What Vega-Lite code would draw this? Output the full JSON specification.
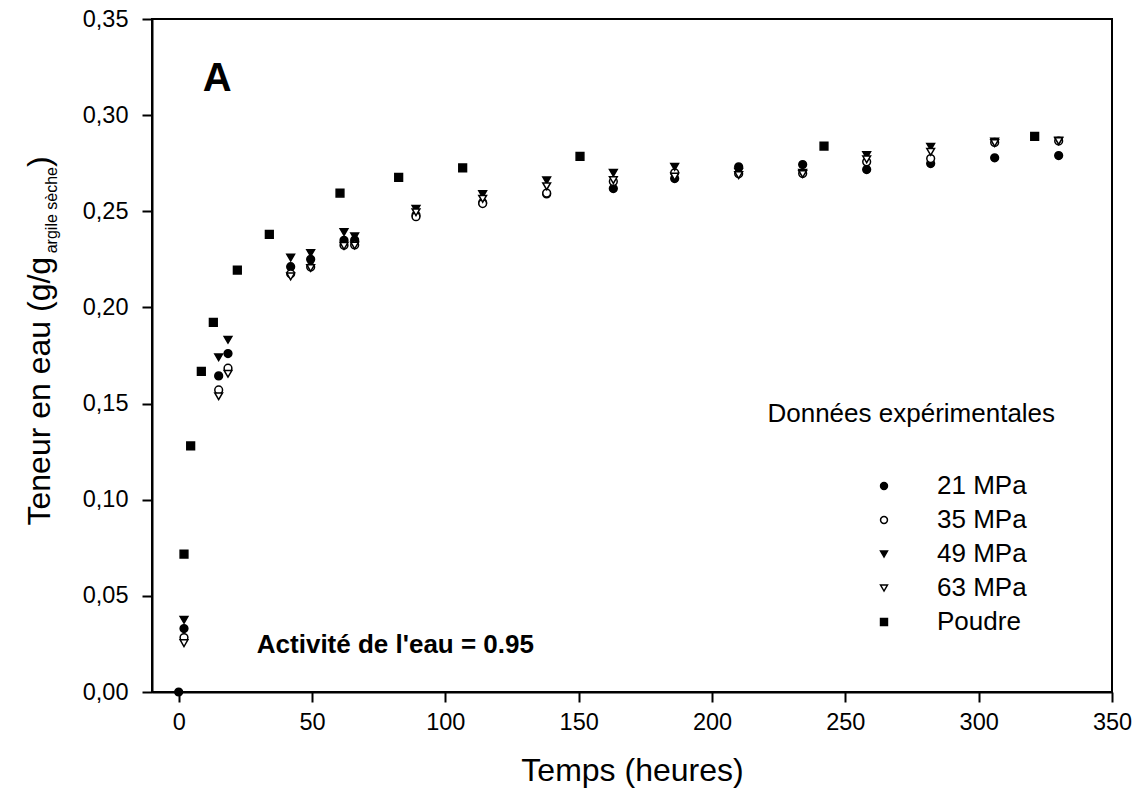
{
  "$schema": "https://vega.github.io/schema/vega-lite/v6.json",
  "width": 960,
  "height": 673,
  "autosize": {"type": "none"},
  "padding": {"left": 152, "top": 19, "right": 31, "bottom": 118},
  "background": "white",
  "config": {
    "font": "Liberation Sans",
    "view": {"stroke": "black", "strokeWidth": 2},
    "axis": {"grid": false, "domainColor": "black", "domainWidth": 2, "tickColor": "black", "tickWidth": 2, "labelColor": "black", "titleColor": "black", "labelFont": "Liberation Sans", "titleFont": "Liberation Sans", "titleFontWeight": "normal"}
  },
  "datasets": {
    "points": [
      {"series": "21 MPa", "t": 0, "w": 0},
      {"series": "21 MPa", "t": 2, "w": 0.033},
      {"series": "21 MPa", "t": 15, "w": 0.1644},
      {"series": "21 MPa", "t": 18.5, "w": 0.176},
      {"series": "21 MPa", "t": 42, "w": 0.2212},
      {"series": "21 MPa", "t": 49.5, "w": 0.225},
      {"series": "21 MPa", "t": 62, "w": 0.2349},
      {"series": "21 MPa", "t": 66, "w": 0.235},
      {"series": "21 MPa", "t": 89, "w": 0.248},
      {"series": "21 MPa", "t": 114, "w": 0.2545},
      {"series": "21 MPa", "t": 138, "w": 0.259},
      {"series": "21 MPa", "t": 163, "w": 0.2618},
      {"series": "21 MPa", "t": 186, "w": 0.267},
      {"series": "21 MPa", "t": 210, "w": 0.2731},
      {"series": "21 MPa", "t": 234, "w": 0.2743},
      {"series": "21 MPa", "t": 258, "w": 0.2717},
      {"series": "21 MPa", "t": 282, "w": 0.2748},
      {"series": "21 MPa", "t": 306, "w": 0.2778},
      {"series": "21 MPa", "t": 330, "w": 0.279},
      {"series": "35 MPa", "t": 2, "w": 0.0283},
      {"series": "35 MPa", "t": 15, "w": 0.1571},
      {"series": "35 MPa", "t": 18.5, "w": 0.1684},
      {"series": "35 MPa", "t": 42, "w": 0.2175},
      {"series": "35 MPa", "t": 49.5, "w": 0.221},
      {"series": "35 MPa", "t": 62, "w": 0.2323},
      {"series": "35 MPa", "t": 66, "w": 0.2325},
      {"series": "35 MPa", "t": 89, "w": 0.2472},
      {"series": "35 MPa", "t": 114, "w": 0.254},
      {"series": "35 MPa", "t": 138, "w": 0.2595},
      {"series": "35 MPa", "t": 163, "w": 0.2655},
      {"series": "35 MPa", "t": 186, "w": 0.27},
      {"series": "35 MPa", "t": 210, "w": 0.2695},
      {"series": "35 MPa", "t": 234, "w": 0.2696},
      {"series": "35 MPa", "t": 258, "w": 0.2757},
      {"series": "35 MPa", "t": 282, "w": 0.2774},
      {"series": "35 MPa", "t": 306, "w": 0.2858},
      {"series": "35 MPa", "t": 330, "w": 0.2865},
      {"series": "49 MPa", "t": 2, "w": 0.0375},
      {"series": "49 MPa", "t": 15, "w": 0.1741},
      {"series": "49 MPa", "t": 18.5, "w": 0.1832},
      {"series": "49 MPa", "t": 42, "w": 0.2259},
      {"series": "49 MPa", "t": 49.5, "w": 0.2283},
      {"series": "49 MPa", "t": 62, "w": 0.2392},
      {"series": "49 MPa", "t": 66, "w": 0.237},
      {"series": "49 MPa", "t": 89, "w": 0.2512},
      {"series": "49 MPa", "t": 114, "w": 0.2589},
      {"series": "49 MPa", "t": 138, "w": 0.2661},
      {"series": "49 MPa", "t": 163, "w": 0.27},
      {"series": "49 MPa", "t": 186, "w": 0.2731},
      {"series": "49 MPa", "t": 210, "w": 0.2705},
      {"series": "49 MPa", "t": 234, "w": 0.27},
      {"series": "49 MPa", "t": 258, "w": 0.2792},
      {"series": "49 MPa", "t": 282, "w": 0.2835},
      {"series": "49 MPa", "t": 306, "w": 0.2862},
      {"series": "49 MPa", "t": 330, "w": 0.2868},
      {"series": "63 MPa", "t": 2, "w": 0.0254},
      {"series": "63 MPa", "t": 15, "w": 0.1538},
      {"series": "63 MPa", "t": 18.5, "w": 0.1655},
      {"series": "63 MPa", "t": 42, "w": 0.2161},
      {"series": "63 MPa", "t": 49.5, "w": 0.2205},
      {"series": "63 MPa", "t": 62, "w": 0.232},
      {"series": "63 MPa", "t": 66, "w": 0.2322},
      {"series": "63 MPa", "t": 89, "w": 0.2495},
      {"series": "63 MPa", "t": 114, "w": 0.2565},
      {"series": "63 MPa", "t": 138, "w": 0.263},
      {"series": "63 MPa", "t": 163, "w": 0.2662},
      {"series": "63 MPa", "t": 186, "w": 0.268},
      {"series": "63 MPa", "t": 210, "w": 0.2688},
      {"series": "63 MPa", "t": 234, "w": 0.2694},
      {"series": "63 MPa", "t": 258, "w": 0.277},
      {"series": "63 MPa", "t": 282, "w": 0.2809},
      {"series": "63 MPa", "t": 306, "w": 0.2855},
      {"series": "63 MPa", "t": 330, "w": 0.2865},
      {"series": "Poudre", "t": 2, "w": 0.0717},
      {"series": "Poudre", "t": 4.5, "w": 0.128},
      {"series": "Poudre", "t": 8.5, "w": 0.1667},
      {"series": "Poudre", "t": 13, "w": 0.1922},
      {"series": "Poudre", "t": 22, "w": 0.2194},
      {"series": "Poudre", "t": 34, "w": 0.238},
      {"series": "Poudre", "t": 60.5, "w": 0.2595},
      {"series": "Poudre", "t": 82.5, "w": 0.2676},
      {"series": "Poudre", "t": 106.5, "w": 0.2726},
      {"series": "Poudre", "t": 150.5, "w": 0.2786},
      {"series": "Poudre", "t": 242, "w": 0.2839},
      {"series": "Poudre", "t": 321, "w": 0.289}
    ],
    "boldNotes": [
      {"t": 9.0, "w": 0.3127, "label": "A", "size": 40},
      {"t": 29.3, "w": 0.0205, "label": "Activité de l'eau = 0.95", "size": 26}
    ],
    "plainNotes": [
      {"t": 220.8, "w": 0.1403, "label": "Données expérimentales"}
    ]
  },
  "encoding": {
    "x": {
      "field": "t", "type": "quantitative",
      "scale": {"domain": [-10, 350], "nice": false, "zero": false},
      "axis": {
        "title": "Temps (heures)", "titleFontSize": 32, "titlePadding": 22,
        "values": [0, 50, 100, 150, 200, 250, 300, 350],
        "labelFontSize": 23.5, "labelPadding": 8, "tickSize": 10, "labelFlush": false
      }
    }
  },
  "layer": [
    {
      "data": {"name": "points"},
      "mark": {"type": "point", "filled": true, "stroke": "black", "strokeWidth": 1.5, "size": 60, "opacity": 1},
      "encoding": {
        "y": {
          "field": "w", "type": "quantitative",
          "scale": {"domain": [0, 0.35], "nice": false},
          "axis": {
            "orient": "left",
            "values": [0, 0.05, 0.1, 0.15, 0.2, 0.25, 0.3, 0.35],
            "labelExpr": "replace(format(datum.value, '.2f'), '.', ',')",
            "labelFontSize": 23.5, "labelPadding": 14, "tickSize": 10, "labelFlush": false,
            "title": "Teneur en eau (g/g", "titleFontSize": 32,
            "titleAngle": -90, "titleAlign": "left", "titleBaseline": "alphabetic",
            "titleX": -103, "titleY": 506
          }
        },
        "shape": {
          "field": "series", "type": "nominal",
          "scale": {"domain": ["21 MPa", "35 MPa", "49 MPa", "63 MPa", "Poudre"], "range": ["circle", "circle", "triangle-down", "triangle-down", "square"]},
          "legend": {"orient": "none", "legendX": 719, "legendY": 454, "title": null, "labelFontSize": 26, "labelOffset": 40, "rowPadding": 8, "padding": 0, "symbolSize": 48, "labelColor": "black",
            "encode": {"symbols": {"update": {"stroke": {"value": "black"}, "strokeWidth": {"value": 1.5}}}}}
        },
        "fill": {
          "field": "series", "type": "nominal",
          "scale": {"domain": ["21 MPa", "35 MPa", "49 MPa", "63 MPa", "Poudre"], "range": ["black", "white", "black", "white", "black"]},
          "legend": {"orient": "none", "legendX": 719, "legendY": 454, "title": null, "labelFontSize": 26, "labelOffset": 40, "rowPadding": 8, "padding": 0, "symbolSize": 48, "labelColor": "black",
            "encode": {"symbols": {"update": {"stroke": {"value": "black"}, "strokeWidth": {"value": 1.5}}}}}
        }
      }
    },
    {
      "data": {"name": "boldNotes"},
      "mark": {"type": "text", "fontWeight": "bold", "align": "left", "baseline": "alphabetic", "color": "black"},
      "encoding": {
        "y": {
          "field": "w", "type": "quantitative",
          "axis": {
            "orient": "left", "labels": false, "ticks": false, "domain": false,
            "title": "argile sèche", "titleFontSize": 16,
            "titleAngle": -90, "titleAlign": "left", "titleBaseline": "alphabetic",
            "titleX": -96, "titleY": 233.8
          }
        },
        "text": {"field": "label"},
        "size": {"field": "size", "type": "quantitative", "scale": null}
      }
    },
    {
      "data": {"name": "plainNotes"},
      "mark": {"type": "text", "fontSize": 26, "align": "left", "baseline": "alphabetic", "color": "black"},
      "encoding": {
        "y": {
          "field": "w", "type": "quantitative",
          "axis": {
            "orient": "left", "labels": false, "ticks": false, "domain": false,
            "title": ")", "titleFontSize": 32,
            "titleAngle": -90, "titleAlign": "left", "titleBaseline": "alphabetic",
            "titleX": -103, "titleY": 147.5
          }
        },
        "text": {"field": "label"}
      }
    }
  ],
  "resolve": {"axis": {"y": "independent"}}
}
